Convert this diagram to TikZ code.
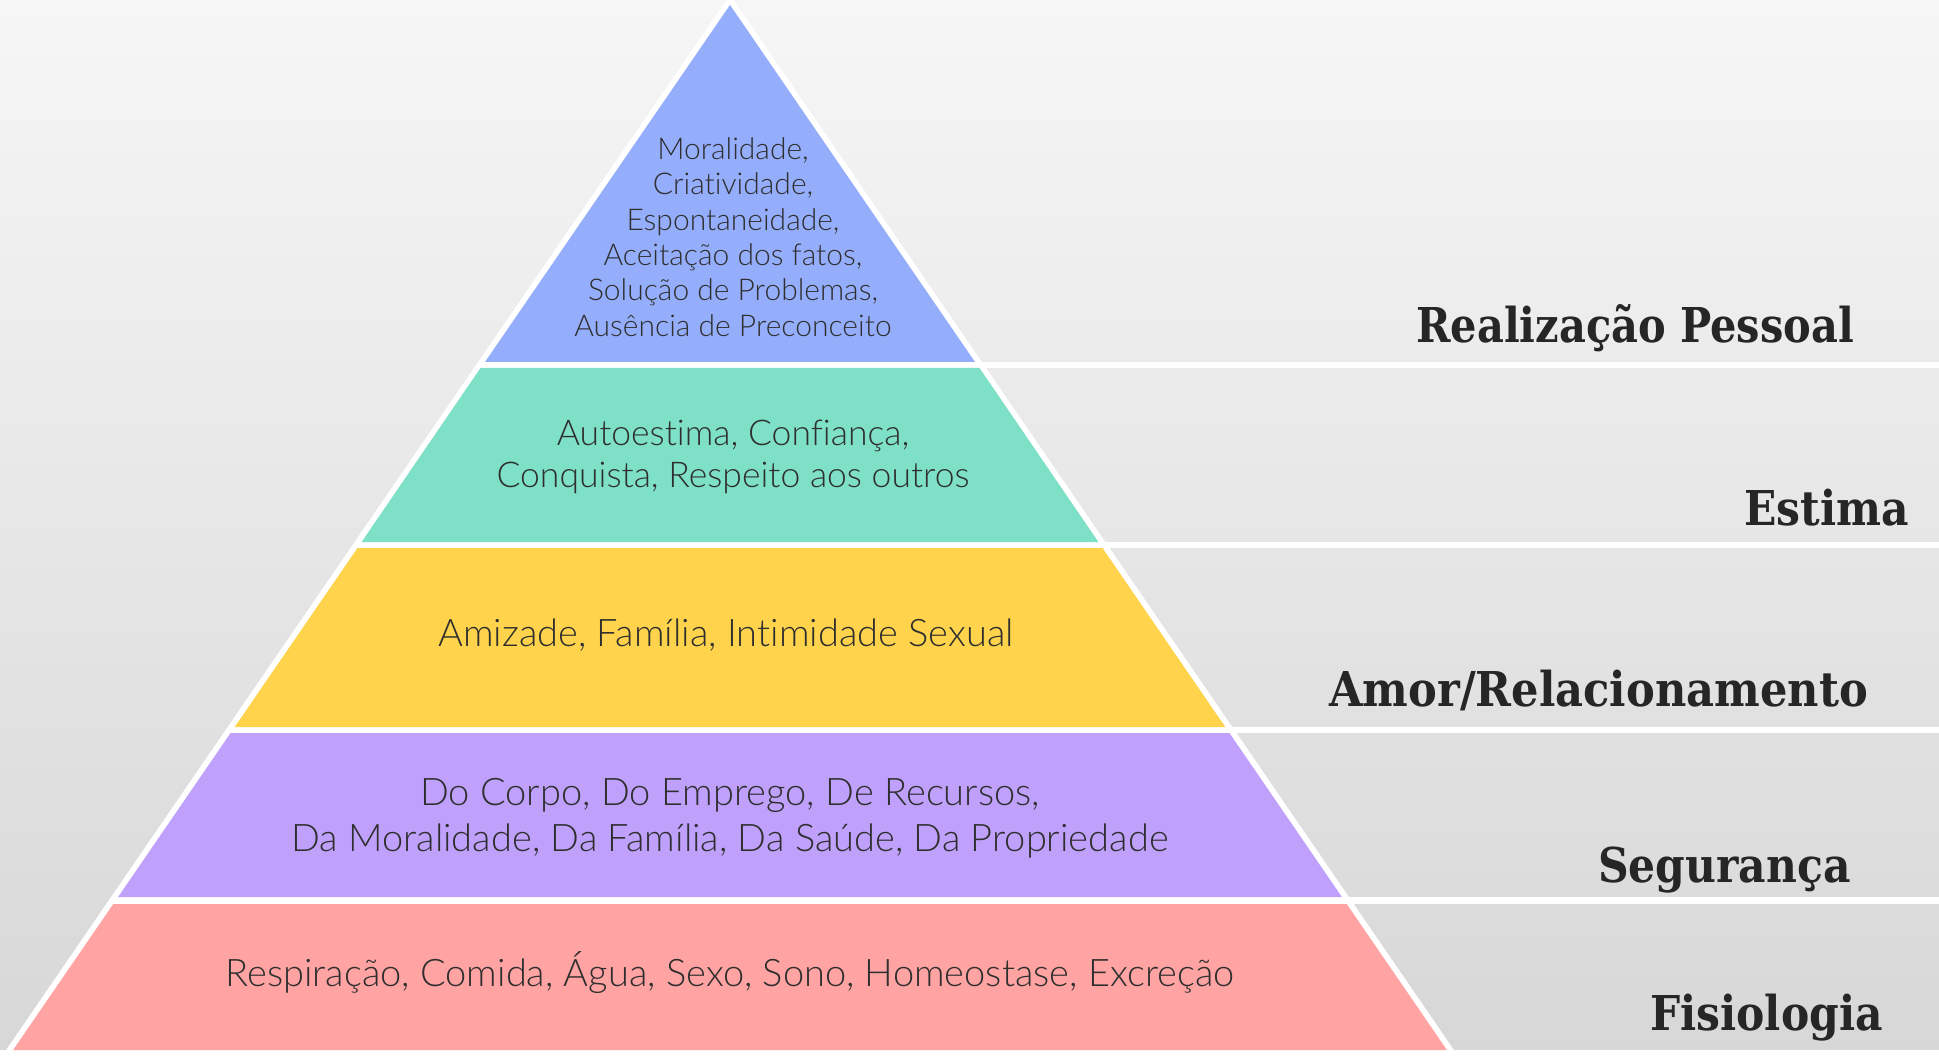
\documentclass[tikz,border=0pt]{standalone}
\usepackage{fontspec}
\newfontfamily\pyrfont{Lato Light}[Ligatures={NoCommon}]
\newfontfamily\labfont{DejaVu Serif}[FakeStretch=0.885]
\newfontfamily\labfontn{DejaVu Serif}[FakeStretch=0.865]
\newfontfamily\labfontw{DejaVu Serif}[FakeStretch=0.90]
\definecolor{bgtop}{HTML}{F6F6F6}
\definecolor{bgbot}{HTML}{D7D7D7}
\definecolor{cblue}{HTML}{95AEFC}
\definecolor{cteal}{HTML}{7EE0C6}
\definecolor{cyellow}{HTML}{FFD44C}
\definecolor{cpurple}{HTML}{BFA1FC}
\definecolor{cred}{HTML}{FFA3A3}
\definecolor{txt}{HTML}{2E2E2E}
\definecolor{lab}{HTML}{262626}
\begin{document}
\begin{tikzpicture}[x=1pt,y=-1pt,
  ptext/.style={font=\pyrfont\fontsize{38}{45.5}\selectfont, text=txt, align=center, inner sep=0pt},
  psmall/.style={font=\pyrfont\fontsize{30}{35.4}\selectfont, text=txt, align=center, inner sep=0pt},
  levellabel/.style={font=\labfont\bfseries\fontsize{48}{58}\selectfont, text=lab, inner sep=0pt, anchor=base west},
  gap/.style={fill=white}]
\useasboundingbox (0,0) rectangle (1939,1056);
% background
\shade[top color=bgtop, bottom color=bgbot] (0,0) rectangle (1939,1056);
% white outline of the pyramid and separators
\fill[white] (730,-5.2) -- (1458,1056) -- (2,1056) -- cycle;
\fill[gap] (730,362) rectangle (1939,368);
\fill[gap] (730,542) rectangle (1939,548);
\fill[gap] (730,727) rectangle (1939,733);
\fill[gap] (730,897) rectangle (1939,904);
\fill[gap] (0,1050) rectangle (1939,1056);
% bands
\fill[cblue] (730,5) -- (975,362) -- (485,362) -- cycle;
\fill[cteal] (480.5,368) -- (979.5,368) -- (1098.4,542) -- (361.6,542) -- cycle;
\fill[cyellow] (357.5,548) -- (1102.5,548) -- (1225.3,727) -- (234.7,727) -- cycle;
\fill[cpurple] (230.6,733) -- (1229.4,733) -- (1341.9,897) -- (118.1,897) -- cycle;
\fill[cred] (113.3,904) -- (1346.7,904) -- (1446.9,1050) -- (13.1,1050) -- cycle;
% texts
\node[psmall] (t1) at (733,237) {Moralidade,\\Criatividade,\\Espontaneidade,\\Aceitação dos fatos,\\Solução de Problemas,\\Ausência de Preconceito};
\node[ptext, font=\pyrfont\fontsize{35.5}{41.5}\selectfont] (t2) at (733,457) {Autoestima, Confiança,\\Conquista, Respeito aos outros};
\node[ptext] (t3) at (726,635) {Amizade, Família, Intimidade Sexual};
\node[ptext] (t4) at (730,818) {Do Corpo, Do Emprego, De Recursos,\\Da Moralidade, Da Família, Da Saúde, Da Propriedade};
\node[ptext] (t5) at (730,973) {Respiração, Comida, Água, Sexo, Sono, Homeostase, Excreção};
% level labels
\node[levellabel, font=\labfontn\bfseries\fontsize{48}{58}\selectfont] (l1) at (1416,343) {Realização Pessoal};
\node[levellabel] (l2) at (1744,525) {Estima};
\node[levellabel, font=\labfontw\bfseries\fontsize{48}{58}\selectfont] (l3) at (1329,706) {Amor/Relacionamento};
\node[levellabel] (l4) at (1598,882) {Segurança};
\node[levellabel] (l5) at (1650,1030) {Fisiologia};
\end{tikzpicture}
\end{document}
